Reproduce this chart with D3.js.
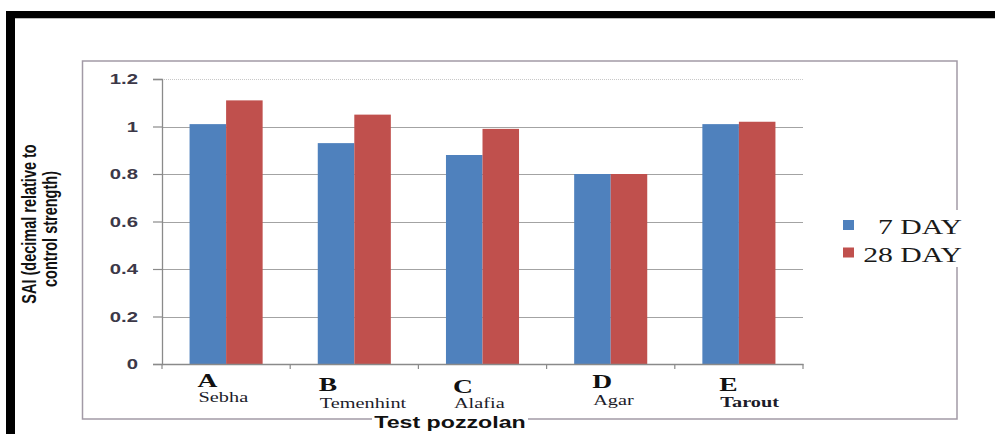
<!DOCTYPE html>
<html>
<head>
<meta charset="utf-8">
<script src="https://cdn.jsdelivr.net/npm/d3@7"></script>
<style>
  html, body { margin: 0; padding: 0; background: #fff; }
  svg { display: block; }
</style>
</head>
<body>
<svg id="chart" width="995" height="434"></svg>
<script>
// Strength activity index of the test pozzolans
const categories = ["A", "B", "C", "D", "E"];
const pozzolanNames = ["Sebha", "Temenhint", "Alafia", "Agar", "Tarout"];
const seriesNames = ["7 DAY", "28 DAY"];
const day7 = [1.01, 0.93, 0.88, 0.80, 1.01];
const day28 = [1.11, 1.05, 0.99, 0.80, 1.02];
const yTicks = [0, 0.2, 0.4, 0.6, 0.8, 1, 1.2];
const yTickLabels = ["0", "0.2", "0.4", "0.6", "0.8", "1", "1.2"];

// hand-placed category label offsets (x nudge, letter baseline, name baseline)
const labelNudge = [8, 1, 7, 18, 17];
const letterBase = [387, 391, 393, 388, 391];
const nameBase = [402, 408, 408, 405, 407];

const colors = ["#4F81BD", "#C0504D"];
const SX = 1.45; // horizontal text stretch

const svg = d3.select("#chart");

// outer black frame
svg.append("rect").attr("x", 6).attr("y", 11).attr("width", 995).attr("height", 7).attr("fill", "#000");
svg.append("rect").attr("x", 6).attr("y", 11).attr("width", 9).attr("height", 430).attr("fill", "#000");
svg.append("line").attr("x1", 15).attr("x2", 995).attr("y1", 18.5).attr("y2", 18.5)
  .attr("stroke", "#bbb").attr("stroke-width", 1);

// chart area border
svg.append("rect").attr("x", 82.5).attr("y", 61).attr("width", 874.5).attr("height", 358)
  .attr("fill", "none").attr("stroke", "#a29aa6").attr("stroke-width", 1.5);

const plot = { left: 162, right: 803, top: 79, bottom: 364 };

const x0 = d3.scaleBand().domain(categories).range([plot.left, plot.right])
  .paddingInner(0.43).paddingOuter(0.215);
const x1 = d3.scaleBand().domain(seriesNames).range([0, x0.bandwidth()]);
const y = d3.scaleLinear().domain([0, 1.2]).range([plot.bottom, plot.top]);

function stretched(sel, x, yy, extra) {
  return sel.attr("transform", `translate(${x},${yy}) scale(${SX},1)` + (extra || ""));
}

// gridlines
svg.append("g").selectAll("line").data(yTicks.filter(d => d > 0)).join("line")
  .attr("x1", plot.left).attr("x2", plot.right)
  .attr("y1", d => Math.round(y(d)) + 0.5).attr("y2", d => Math.round(y(d)) + 0.5)
  .attr("stroke", d => d === 1.2 ? "#c8c8c8" : "#a3a3a3")
  .attr("stroke-dasharray", d => d === 1.2 ? "1,1" : null)
  .attr("stroke-width", 1.2);

// y axis
const yAxis = d3.axisLeft(y).tickValues(yTicks).tickSize(9).tickFormat((d, i) => yTickLabels[i]);
const gy = svg.append("g").attr("transform", `translate(${plot.left},0)`).call(yAxis);
gy.select(".domain").attr("stroke", "#8a8a8a").attr("stroke-width", 1.3);
gy.selectAll(".tick line").attr("stroke", "#8a8a8a").attr("stroke-width", 1.2);
gy.selectAll(".tick text").each(function () {
  const t = d3.select(this);
  t.attr("x", null).attr("dy", null).attr("y", null)
    .attr("font-family", "Arial, 'Liberation Sans', sans-serif")
    .attr("font-weight", "bold").attr("font-size", 14)
    .attr("fill", "#3c3848").attr("text-anchor", "end").attr("dominant-baseline", "middle");
  stretched(t, -24, 1);
});

// bars
const groups = svg.append("g").selectAll("g").data(categories).join("g")
  .attr("transform", d => `translate(${x0(d)},0)`);
groups.selectAll("rect")
  .data((d, i) => [day7[i], day28[i]].map((v, k) => ({ key: seriesNames[k], value: v, k })))
  .join("rect")
  .attr("x", d => x1(d.key))
  .attr("y", d => y(d.value))
  .attr("width", x1.bandwidth())
  .attr("height", d => y(0) - y(d.value))
  .attr("fill", d => colors[d.k]);

// x axis
const xAxis = d3.axisBottom(x0).tickSize(0).tickFormat("");
const gx = svg.append("g").attr("transform", `translate(0,${plot.bottom})`).call(xAxis);
gx.select(".domain").attr("stroke", "#8a8a8a").attr("stroke-width", 1.3);
// tick marks at category boundaries
const bounds = [plot.left].concat(categories.map(c => x0(c) + x0.bandwidth() / 2 + x0.step() / 2));
svg.append("g").selectAll("line").data(bounds).join("line")
  .attr("x1", d => d).attr("x2", d => d)
  .attr("y1", plot.bottom).attr("y2", plot.bottom + 5)
  .attr("stroke", "#8a8a8a").attr("stroke-width", 1.2);

// category labels
categories.forEach((c, i) => {
  const lx = x0(c) + labelNudge[i];
  stretched(svg.append("text"), lx, letterBase[i])
    .attr("font-family", "'Liberation Serif', 'Times New Roman', serif")
    .attr("font-weight", "bold").attr("font-size", 19).attr("fill", "#111")
    .text(c);
  stretched(svg.append("text"), lx + 1, nameBase[i])
    .attr("font-family", "'Liberation Serif', 'Times New Roman', serif")
    .attr("font-weight", i === 4 ? "bold" : "normal")
    .attr("font-size", 14).attr("fill", "#1c1c2a")
    .text(pozzolanNames[i]);
});

// x axis title over the frame line
svg.append("rect").attr("x", 372).attr("y", 412).attr("width", 156).attr("height", 18).attr("fill", "#fff");
stretched(svg.append("text"), 450, 428)
  .attr("text-anchor", "middle")
  .attr("font-family", "Arial, 'Liberation Sans', sans-serif")
  .attr("font-weight", "bold").attr("font-size", 16).attr("fill", "#111")
  .text("Test pozzolan");

// y axis title (two lines, rotated)
const yTitle = ["SAI (decimal relative to", "control strength)"];
const yTitleX = [36, 57];
const yTitleY = [224, 229];
yTitle.forEach((line, i) => {
  stretched(svg.append("text"), yTitleX[i], yTitleY[i], " rotate(-90)")
    .attr("text-anchor", "middle")
    .attr("font-family", "Arial, 'Liberation Sans', sans-serif")
    .attr("font-weight", "bold").attr("font-size", 14.5).attr("fill", "#111")
    .text(line);
});

// legend
const legend = svg.append("g");
legend.append("rect").attr("x", 836).attr("y", 210).attr("width", 130).attr("height", 57).attr("fill", "#fff");
const legendRowY = [234, 261.5];
seriesNames.forEach((s, i) => {
  legend.append("rect").attr("x", 843).attr("y", legendRowY[i] - 14).attr("width", 11).attr("height", 10)
    .attr("fill", colors[i]);
  stretched(legend.append("text"), 962, legendRowY[i])
    .attr("text-anchor", "end")
    .attr("font-family", "'Liberation Serif', 'Times New Roman', serif")
    .attr("font-size", 20.5).attr("fill", "#1a1a1a")
    .text(s);
});
</script>
</body>
</html>
